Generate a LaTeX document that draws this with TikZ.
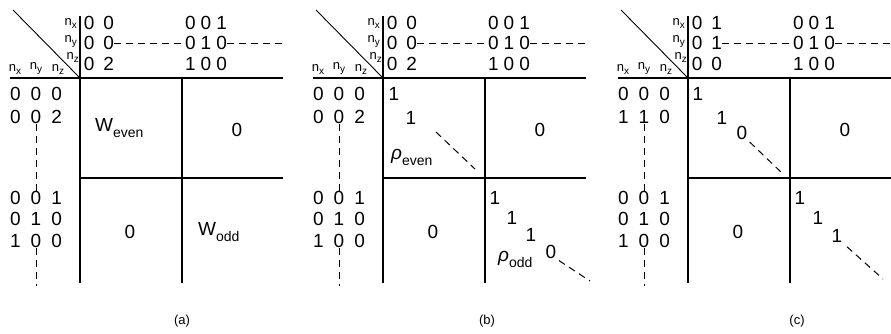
\documentclass[tikz,border=0pt]{standalone}
\usepackage{fontspec}
\setmainfont{Liberation Sans}
\usetikzlibrary{positioning}

\tikzset{
  grid/.style={line width=2.2pt},
  ent/.style={inner sep=0pt, font=\fontsize{19}{20}\selectfont},
  lab/.style={inner sep=0pt, font=\fontsize{13}{14}\selectfont},
  dsh/.style={line width=1pt, dash pattern=on 7pt off 5pt},
}
\newcommand{\nlab}[1]{n\raisebox{-3pt}{\fontsize{10}{11}\selectfont #1}}
\newcommand{\twin}[2]{#1\hspace{9pt}#2}
\newcommand{\trip}[4][10pt]{#2\hspace{#1}#3\hspace{#1}#4}
\newcommand{\lowsub}[2]{#1\raisebox{-6pt}{\fontsize{14}{15}\selectfont #2}}

% common frame of one panel: top pairs #1 #2 #3, second left row #4
\newcommand{\panelframe}[4]{%
  \draw[grid] (0,-62) -- (0,205);
  \draw[grid] (-70,0) -- (203,0);
  \draw[grid] (102,0) -- (102,205);
  \draw[grid] (0,100) -- (203,100);
  \draw[line width=0.9pt] (-67,-68) -- (0,0);
  % axis labels
  \node[lab, anchor=east] (nx) at (-3,-55) {\nlab{x}};
  \node[lab, anchor=east] (ny) at (-3,-36) {\nlab{y}};
  \node[lab, anchor=east] (nz) at (-1,-21) {\nlab{z}};
  \node[lab] (cx) at (-65,-9) {\nlab{x}};
  \node[lab] (cy) at (-44,-9) {\nlab{y}};
  \node[lab] (cz) at (-22,-9) {\nlab{z}};
  % top rows
  \node[ent] (t1a) at (19,-55) {#1};
  \node[ent] (t2a) at (19,-35) {#2};
  \node[ent] (t3a) at (19,-14) {#3};
  \node[ent] (t1b) at (126,-55) {\trip[5pt]{0}{0}{1}};
  \node[ent] (t2b) at (126,-35) {\trip[5pt]{0}{1}{0}};
  \node[ent] (t3b) at (126,-14) {\trip[5pt]{1}{0}{0}};
  \coordinate (t2e) at (205,-35);
  \draw[dsh] (t2a.east) -- (t2b.west);
  \draw[dsh] (t2b.east) -- (t2e);
  % left column
  \node[ent] (l1) at (-44,16) {\trip{0}{0}{0}};
  \node[ent] (l2) at (-44,39) {#4};
  \node[ent] (l3) at (-44,120) {\trip{0}{0}{1}};
  \node[ent] (l4) at (-44,141) {\trip{0}{1}{0}};
  \node[ent] (l5) at (-44,163) {\trip{1}{0}{0}};
  \coordinate (l6) at (-44,208);
  \draw[dsh] (l2.south) -- (l3.north);
  \draw[dsh] (l5.south) -- (l6);
  % zero blocks
  \node[ent] (z1) at (157,52) {0};
  \node[ent] (z2) at (50,154) {0};
}

\begin{document}
\begin{tikzpicture}[x=1pt, y=-1pt]
  \useasboundingbox (0,0) rectangle (891,333);

  % (a)
  \begin{scope}[shift={(80,78)}, name prefix=a-]
    \panelframe{\twin{0}{0}}{\twin{0}{0}}{\twin{0}{2}}{\trip{0}{0}{2}}
    \node[ent, anchor=west] (we) at (15,50) {\lowsub{W}{even}};
    \node[ent, anchor=west] (wo) at (118,154) {\lowsub{W}{odd}};
    \node[lab] (cap) at (102,243) {(a)};
  \end{scope}

  % (b)
  \begin{scope}[shift={(383,78)}, name prefix=b-]
    \panelframe{\twin{0}{0}}{\twin{0}{0}}{\twin{0}{2}}{\trip{0}{0}{2}}
    \node[ent] (e1) at (11,16) {1};
    \node[ent] (e2) at (28,40) {1};
    \coordinate (e3) at (53,54);
    \coordinate (e4) at (92,91);
    \draw[dsh] (e3) -- (e4);
    \node[ent, anchor=west] (re) at (8,79) {\lowsub{\textit{ρ}}{even}};
    \node[ent] (o1) at (112,120) {1};
    \node[ent] (o2) at (129,140) {1};
    \node[ent] (o3) at (148,157) {1};
    \node[ent, anchor=west] (ro) at (115,181) {\lowsub{\textit{ρ}}{odd}};
    \node[ent] (o4) at (168,174) {0};
    \coordinate (o5) at (207,203);
    \draw[dsh, shorten <=3pt] (o4.south east) -- (o5);
    \node[lab] (cap) at (104,243) {(b)};
  \end{scope}

  % (c)
  \begin{scope}[shift={(688,78)}, name prefix=c-]
    \panelframe{\twin{0}{1}}{\twin{0}{1}}{\twin{0}{0}}{\trip{1}{1}{0}}
    \node[ent] (e1) at (10,16) {1};
    \node[ent] (e2) at (34,40) {1};
    \node[ent] (e3) at (54,55) {0};
    \coordinate (e4) at (95,96);
    \draw[dsh, shorten <=3pt] (e3.south east) -- (e4);
    \node[ent] (o1) at (112,120) {1};
    \node[ent] (o2) at (130,140) {1};
    \node[ent] (o3) at (149,158) {1};
    \coordinate (o4) at (195,201);
    \draw[dsh, shorten <=6pt] (o3.south east) -- (o4);
    \node[lab] (cap) at (109,243) {(c)};
  \end{scope}
\end{tikzpicture}
\end{document}
